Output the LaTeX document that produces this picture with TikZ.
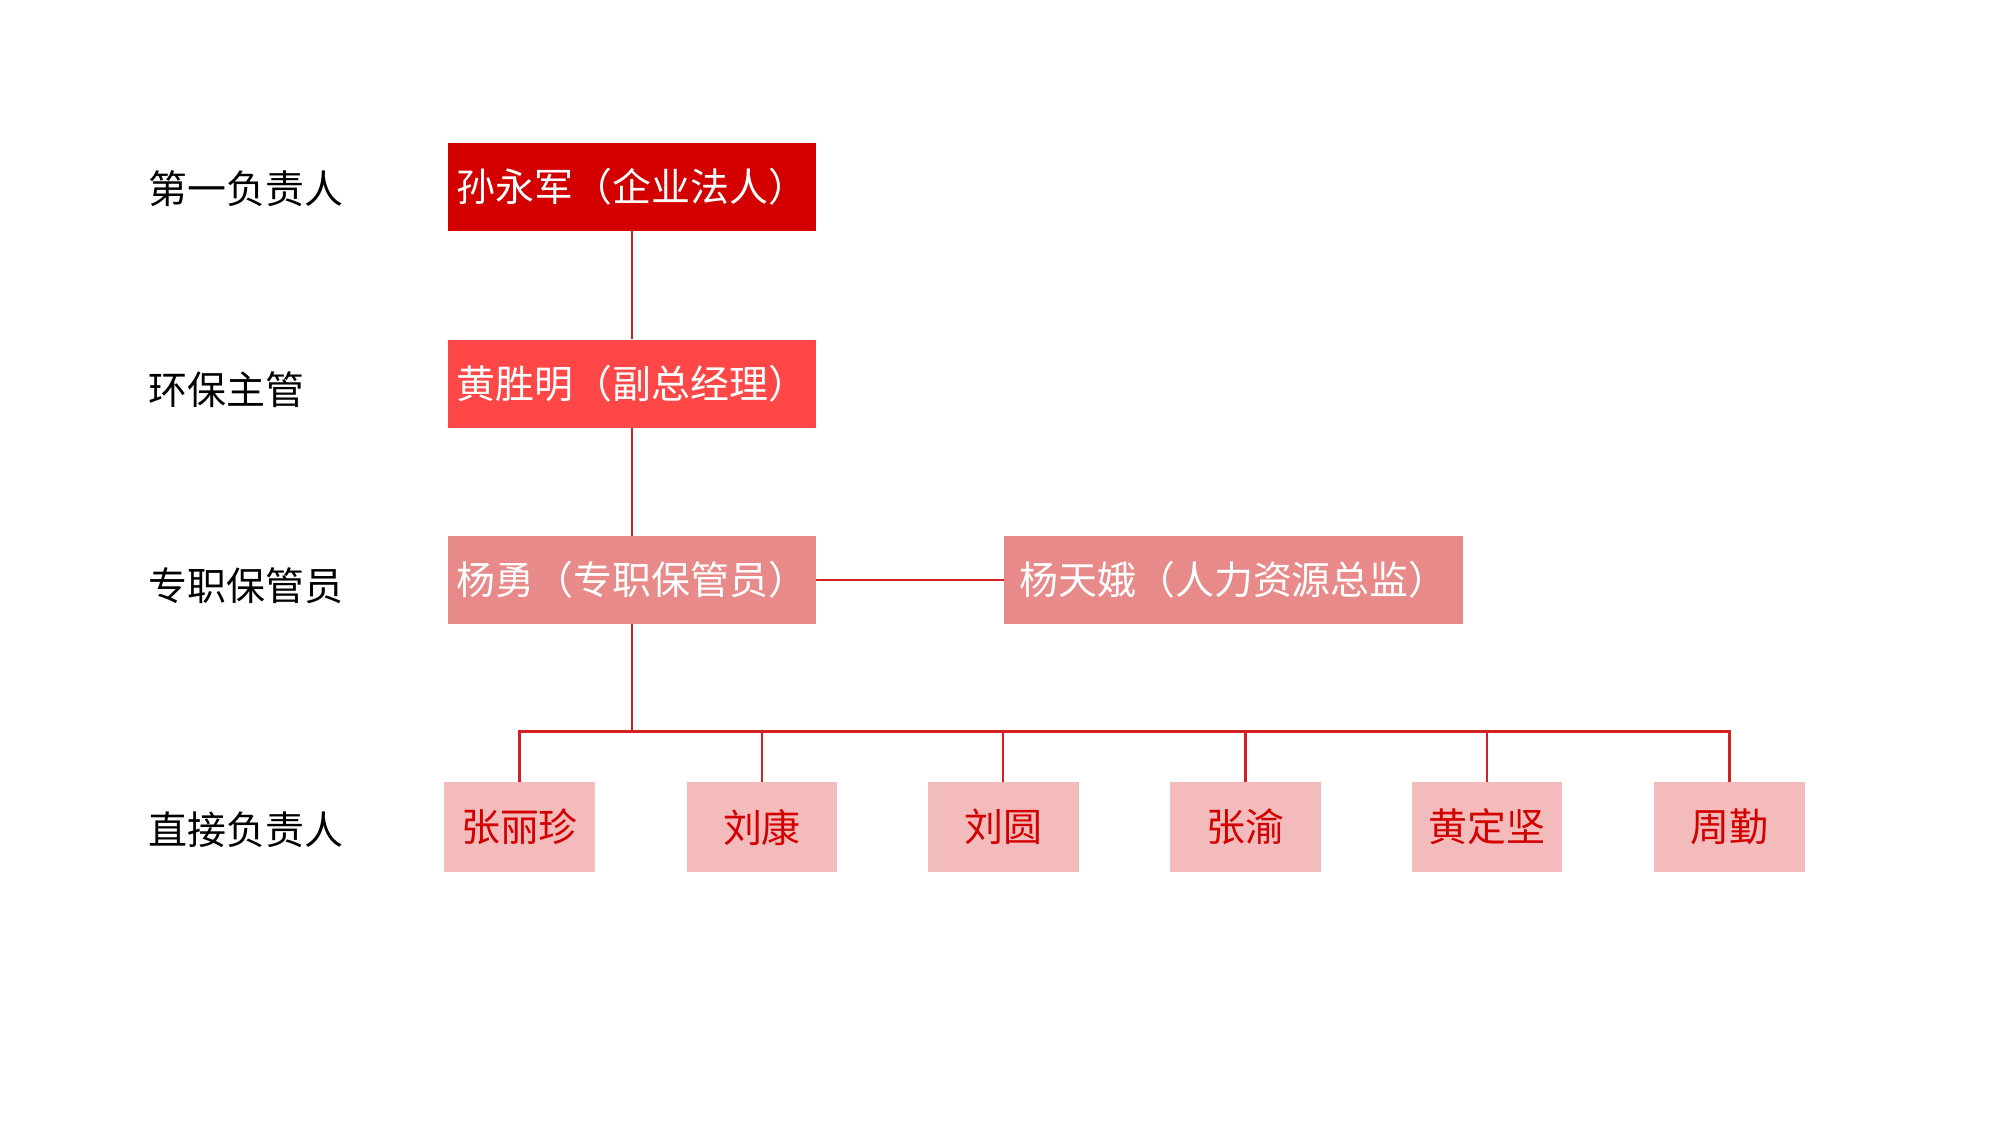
\documentclass[tikz,border=0pt]{standalone}
\usepackage{xcolor}
\usepackage{fontspec}
\setmainfont{Noto Sans CJK SC}
\usepackage{tikz}
\usetikzlibrary{positioning}
\definecolor{topred}{HTML}{D40000}
\definecolor{midred}{HTML}{FF4747}
\definecolor{lowred}{HTML}{E88A8A}
\definecolor{palered}{HTML}{F3BBBB}
\definecolor{linered}{HTML}{D42020}
\tikzset{
  rolebox/.style={minimum width=288pt,minimum height=69pt,inner sep=0pt,text=white,font=\fontsize{30.5}{33}\selectfont},
  personbox/.style={minimum width=118pt,minimum height=70pt,inner sep=0pt,fill=palered,text=topred,font=\fontsize{30.5}{33}\selectfont},
  rank/.style={anchor=west,font=\fontsize{30.5}{33}\selectfont},
  link/.style={draw=linered,line width=2pt}
}
\begin{document}
\begin{tikzpicture}[x=1pt,y=-1pt]
\useasboundingbox (0,0) rectangle (1567,879);

% Rank labels
\node[rank] (r1) at (113,148) {第一负责人};
\node[rank] (r2) at (113,305) {环保主管};
\node[rank] (r3) at (113,459) {专职保管员};
\node[rank] (r4) at (113,650) {直接负责人};

% Upper boxes
\node[rolebox,fill=topred] (sun) at (495,146.5) {孙永军（企业法人）};
\node[rolebox,fill=midred] (huang) at (495,300.5) {黄胜明（副总经理）};
\node[rolebox,fill=lowred] (yang) at (495,454.5) {杨勇（专职保管员）};
\node[rolebox,fill=lowred,minimum width=359pt] (yangte) at (966.5,454.5) {杨天娥（人力资源总监）};

% Lower boxes
\node[personbox] (p1) at (407,648) {张丽珍};
\node[personbox] (p2) at (597,648) {刘康};
\node[personbox] (p3) at (786,648) {刘圆};
\node[personbox] (p4) at (976,648) {张渝};
\node[personbox] (p5) at (1165,648) {黄定坚};
\node[personbox] (p6) at (1355,648) {周勤};

% Connectors
\coordinate (bus) at (495,573);
\draw[link] (sun) -- (huang);
\draw[link] (huang) -- (yang);
\draw[link] (yang) -- (yangte);
\draw[link] (yang) -- (bus);
\draw[link] (p1.north) |- (bus) -| (p6.north);
\foreach \p in {p2,p3,p4,p5}
  \draw[link] (\p.north) -- (\p.north |- bus);
\end{tikzpicture}
\end{document}
